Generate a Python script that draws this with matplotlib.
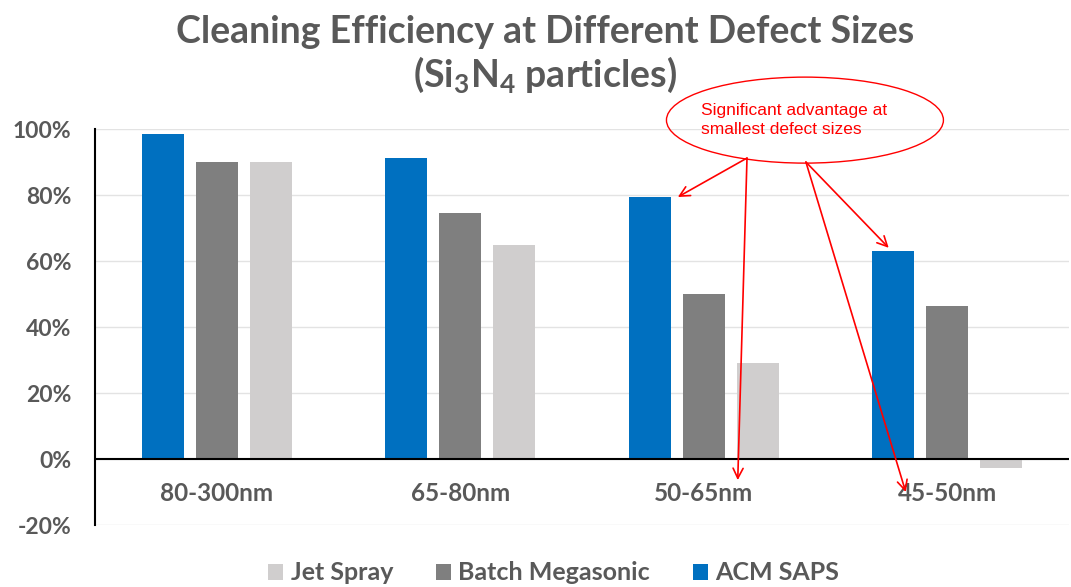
import numpy as np
import matplotlib.pyplot as plt
from matplotlib.patches import Ellipse
from matplotlib.ticker import PercentFormatter

plt.rcParams['axes.unicode_minus'] = False

# ---- data ----
sizes = ['80-300nm', '65-80nm', '50-65nm', '45-50nm']
acm_saps = [0.985, 0.912, 0.794, 0.630]
batch_mega = [0.900, 0.745, 0.500, 0.464]
jet_spray = [0.900, 0.650, 0.290, -0.027]

C_ACM, C_BATCH, C_JET = '#0070C0', '#7F7F7F', '#D0CECE'
TXT = '#595959'
RED = '#FF0000'

fig = plt.figure(figsize=(10.71, 5.87), dpi=100)
ax = fig.add_axes([0.0887, 0.1056, 0.9093, 0.6746])

x = np.arange(len(sizes))
w = 0.173
step = 0.222
b_acm = ax.bar(x - step, acm_saps, w, color=C_ACM, zorder=3)
b_bat = ax.bar(x, batch_mega, w, color=C_BATCH, zorder=3)
b_jet = ax.bar(x + step, jet_spray, w, color=C_JET, zorder=3)

ax.set_xlim(-0.5, len(sizes) - 0.5)
ax.set_ylim(-0.2, 1.0)
ax.set_yticks(np.arange(-0.2, 1.01, 0.2))
ax.yaxis.set_major_formatter(PercentFormatter(1.0, decimals=0))
ax.grid(axis='y', color='#E3E3E3', lw=1, zorder=0)
ax.axhline(0, color='black', lw=1.5, zorder=4)
ax.set_xticks([])
ax.tick_params(axis='y', length=0, pad=17, labelsize=16.5, labelcolor=TXT)
for lab in ax.get_yticklabels():
    lab.set_family('Lato')
    lab.set_fontweight('bold')
for s in ['top', 'right', 'bottom']:
    ax.spines[s].set_visible(False)
ax.spines['left'].set_color('black')
ax.spines['left'].set_linewidth(1.5)

# category labels sit just below the zero line
for xi, name in zip(x, sizes):
    ax.text(xi, -0.105, name, ha='center', va='center', fontsize=17.5,
            fontweight='bold', color=TXT, family='Lato')

fig.text(0.509, 0.945, 'Cleaning Efficiency at Different Defect Sizes',
         ha='center', va='center', fontsize=27, fontweight='bold',
         color=TXT, family='Lato')
fig.text(0.509, 0.872, r'(Si$_\mathregular{3}$N$_\mathregular{4}$ particles)',
         ha='center', va='center', fontsize=27, fontweight='bold',
         color=TXT, family='Lato')

# callout
ell = Ellipse((2.416, 1.027), 1.1376, 0.2606, fill=False, ec=RED, lw=1,
              clip_on=False, zorder=5)
ax.add_patch(ell)
ax.text(1.99, 1.027, 'Significant advantage at\nsmallest defect sizes',
        ha='left', va='center', fontsize=12.5, color=RED,
        family='Liberation Sans', linespacing=1.3, zorder=6)

arrow = dict(arrowstyle='->', color=RED, lw=1.2, mutation_scale=18,
             shrinkA=0, shrinkB=0)
src1 = (2.178, 0.912)
src2 = (2.42, 0.90)
ax.annotate('', xy=(x[2] - 0.106, acm_saps[2]), xytext=src1,
            arrowprops=arrow, annotation_clip=False, zorder=6)
ax.annotate('', xy=(x[2] + 0.14, -0.064), xytext=src1,
            arrowprops=arrow, annotation_clip=False, zorder=6)
ax.annotate('', xy=(x[3] - 0.24, acm_saps[3] + 0.01), xytext=src2,
            arrowprops=arrow, annotation_clip=False, zorder=6)
ax.annotate('', xy=(x[3] - 0.17, -0.1), xytext=src2,
            arrowprops=arrow, annotation_clip=False, zorder=6)

leg = fig.legend([b_jet, b_bat, b_acm], ['Jet Spray', 'Batch Megasonic', 'ACM SAPS'],
                 loc='center', bbox_to_anchor=(0.517, 0.024), ncol=3, frameon=False,
                 handlelength=0.6, handleheight=0.6, handletextpad=0.3,
                 columnspacing=1.7, prop={'family': 'Lato', 'size': 18, 'weight': 'bold'})
for t in leg.get_texts():
    t.set_color(TXT)

fig.savefig('out.png', dpi=100)
